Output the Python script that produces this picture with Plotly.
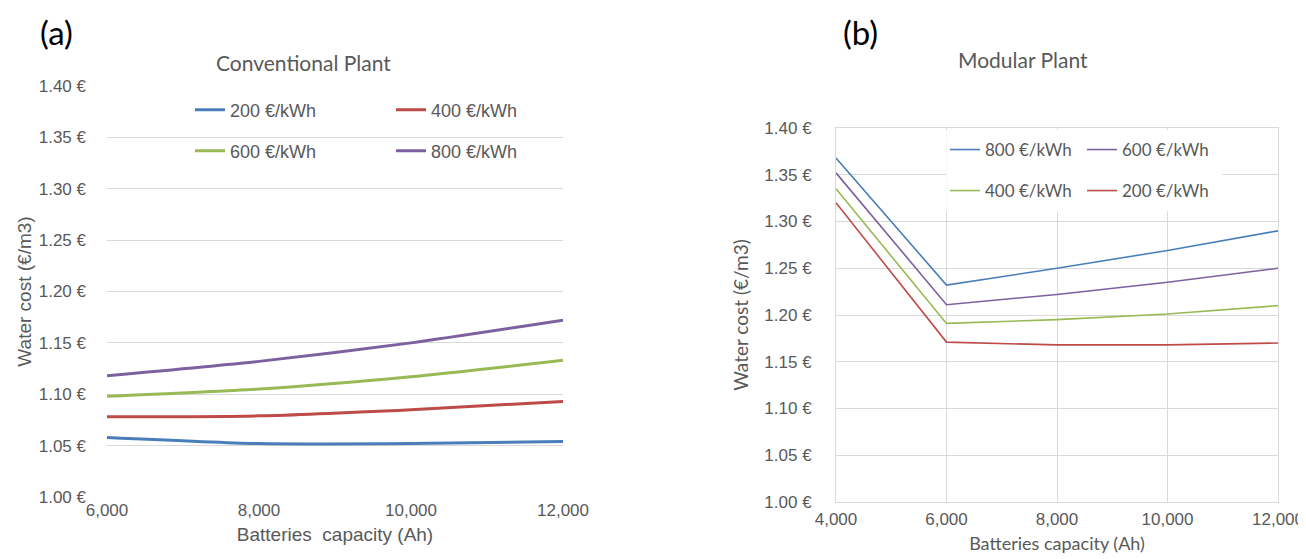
import plotly.graph_objects as go

# ---------------- data ----------------
conv_x = [6000, 8000, 10000, 12000]
conv_200 = [1.058, 1.052, 1.052, 1.054]
conv_400 = [1.078, 1.079, 1.085, 1.093]
conv_600 = [1.098, 1.105, 1.117, 1.133]
conv_800 = [1.118, 1.132, 1.150, 1.172]

mod_x = [4000, 6000, 8000, 10000, 12000]
mod_800 = [1.368, 1.232, 1.250, 1.269, 1.290]
mod_600 = [1.352, 1.211, 1.222, 1.235, 1.250]
mod_400 = [1.335, 1.191, 1.195, 1.201, 1.210]
mod_200 = [1.320, 1.171, 1.168, 1.168, 1.170]

conv_names = ["200 €/kWh", "400 €/kWh", "600 €/kWh", "800 €/kWh"]
mod_names = ["800 €/kWh", "600 €/kWh", "400 €/kWh", "200 €/kWh"]

y_ticks = [1.00, 1.05, 1.10, 1.15, 1.20, 1.25, 1.30, 1.35, 1.40]
y_ticktext = ["1.00 €", "1.05 €", "1.10 €", "1.15 €", "1.20 €", "1.25 €", "1.30 €", "1.35 €", "1.40 €"]
conv_xticks = [6000, 8000, 10000, 12000]
mod_xticks = [4000, 6000, 8000, 10000, 12000]

BLUE = "#4A7EBB"
RED = "#BE4B48"
GREEN = "#98B954"
PURPLE = "#7D60A0"
TXT = "#595959"
GRID = "#D9D9D9"
ARIAL = "Liberation Sans, Arial, sans-serif"
CAL = "Lato, Open Sans, sans-serif"

W, H = 1306, 559


def px_x(p):
    return p / W


def px_y(p):
    return 1 - p / H


fig = go.Figure()

conv_series = [conv_200, conv_400, conv_600, conv_800]
conv_cols = [BLUE, RED, GREEN, PURPLE]
conv_leg = ["legend", "legend2", "legend3", "legend4"]
for name, ys, col, lg in zip(conv_names, conv_series, conv_cols, conv_leg):
    fig.add_trace(go.Scatter(
        x=conv_x, y=ys, name=name, mode="lines", showlegend=True,
        line=dict(color=col, width=3, shape="spline", smoothing=0.6),
        xaxis="x", yaxis="y", legend=lg,
    ))

mod_series = [mod_800, mod_600, mod_400, mod_200]
mod_cols = [BLUE, PURPLE, GREEN, RED]
mod_leg = ["legend5", "legend6", "legend7", "legend8"]
for name, ys, col, lg in zip(mod_names, mod_series, mod_cols, mod_leg):
    fig.add_trace(go.Scatter(
        x=mod_x, y=ys, name=name, mode="lines", showlegend=True,
        line=dict(color=col, width=1.6),
        xaxis="x2", yaxis="y2", legend=lg,
    ))

common_y = dict(range=[1.0, 1.4], tickvals=y_ticks, ticktext=y_ticktext,
                showgrid=True, gridcolor=GRID, gridwidth=1, zeroline=False,
                tickfont=dict(family=ARIAL, size=17, color=TXT),
                ticks="", ticklabelstandoff=20, automargin=False, fixedrange=True)

fig.update_layout(
    width=W, height=H,
    showlegend=True,
    margin=dict(l=0, r=0, t=0, b=0),
    paper_bgcolor="white", plot_bgcolor="white",
    xaxis=dict(domain=[px_x(99), px_x(555)], range=[6000, 12000], tickvals=conv_xticks,
               tickformat=",d", showgrid=False, zeroline=False, showline=False,
               tickfont=dict(family=ARIAL, size=17, color=TXT), ticks="",
               ticklabelstandoff=1, automargin=False,
               title=dict(text="Batteries  capacity (Ah)", standoff=8,
                          font=dict(family=ARIAL, size=19, color=TXT))),
    yaxis=dict(domain=[px_y(489), px_y(78)], anchor="x",
               title=dict(text="Water cost (€/m3)", standoff=2,
                          font=dict(family=ARIAL, size=19, color=TXT)),
               **common_y),
    xaxis2=dict(domain=[px_x(828), px_x(1270)], range=[4000, 12000], tickvals=mod_xticks,
                tickformat=",d", showgrid=True, gridcolor=GRID, zeroline=False,
                showline=True, linecolor=GRID, linewidth=1, mirror=True,
                tickfont=dict(family=ARIAL, size=17, color=TXT), ticks="",
                ticklabelstandoff=2, automargin=False, anchor="y2",
                title=dict(text="Batteries capacity (Ah)", standoff=8,
                           font=dict(family=CAL, size=18, color=TXT))),
    yaxis2=dict(domain=[px_y(494), px_y(120)], anchor="x2",
                showline=True, linecolor=GRID, linewidth=1, mirror=True,
                title=dict(text="Water cost (€/m3)", standoff=10,
                           font=dict(family=CAL, size=19, color=TXT)),
                **common_y),
)

# legends (one entry each, arranged in 2x2 grids like the original)
conv_leg_pos = [(182, 102), (383, 102), (182, 143), (383, 143)]
mod_leg_pos = [(937, 142), (1074, 142), (937, 183), (1074, 183)]
leg_layout = {}
for lg, (lx, ly) in zip(conv_leg, conv_leg_pos):
    leg_layout[lg] = dict(x=px_x(lx), y=px_y(ly), xanchor="left", yanchor="middle",
                          bgcolor="rgba(0,0,0,0)", borderwidth=0, visible=True,
                          font=dict(family=ARIAL, size=18, color=TXT))
for lg, (lx, ly) in zip(mod_leg, mod_leg_pos):
    leg_layout[lg] = dict(x=px_x(lx), y=px_y(ly), xanchor="left", yanchor="middle",
                          bgcolor="rgba(0,0,0,0)", borderwidth=0, visible=True,
                          font=dict(family=CAL, size=17, color=TXT))
fig.update_layout(**leg_layout)

# white background behind the modular plant legend (hides grid like the original)
fig.add_shape(type="rect", xref="x2", yref="y2", x0=5995, x1=10990, y0=1.311, y1=1.398,
              fillcolor="white", line=dict(width=0), layer="between")

# titles and panel letters
fig.add_annotation(text="Conventional Plant", xref="paper", yref="paper",
                   x=px_x(295), y=px_y(55), xanchor="center", yanchor="middle",
                   showarrow=False, font=dict(family=CAL, size=21, color=TXT))
fig.add_annotation(text="Modular Plant", xref="paper", yref="paper",
                   x=px_x(1015), y=px_y(52), xanchor="center", yanchor="middle",
                   showarrow=False, font=dict(family=CAL, size=21, color=TXT))
fig.add_annotation(text="(a)", xref="paper", yref="paper",
                   x=px_x(48), y=px_y(24), xanchor="center", yanchor="middle",
                   showarrow=False, font=dict(family=CAL, size=33, color="black"))
fig.add_annotation(text="(b)", xref="paper", yref="paper",
                   x=px_x(852), y=px_y(24), xanchor="center", yanchor="middle",
                   showarrow=False, font=dict(family=CAL, size=33, color="black"))

fig.write_html("out.html", config=dict(displayModeBar=False))
